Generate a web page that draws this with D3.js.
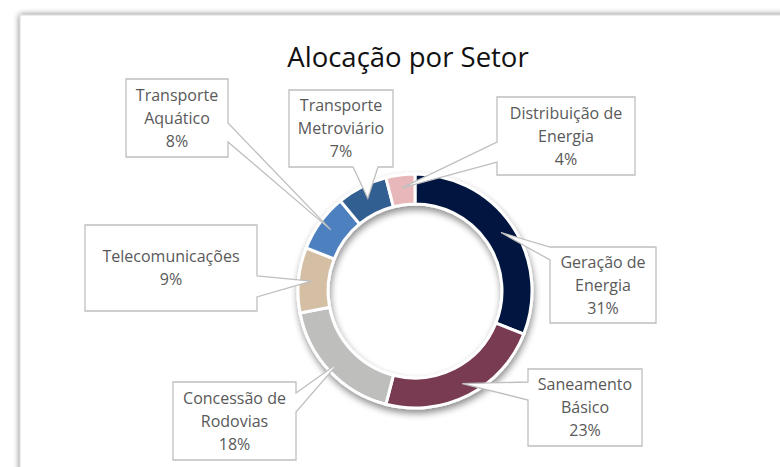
<!DOCTYPE html>
<html>
<head>
<meta charset="utf-8">
<script src="https://cdn.jsdelivr.net/npm/d3@7"></script>
<style>
  html, body { margin: 0; padding: 0; background: #ffffff; }
  svg { display: block; }
</style>
</head>
<body>
<svg id="chart" width="780" height="467"></svg>
<script>
// ---- Data ----
const categories = ["Geração de Energia", "Saneamento Básico", "Concessão de Rodovias",
                    "Telecomunicações", "Transporte Aquático", "Transporte Metroviário",
                    "Distribuição de Energia"];
const values = [31, 23, 18, 9, 8, 7, 4];
const colors = ["#03183F", "#793A51", "#BEBFBC", "#D5BFA4", "#4E80BE", "#335E91", "#E7B7B9"];
const title = "Alocação por Setor";

// ---- Label layout (line breaks and callout boxes) ----
const labelLines = [
  ["Geração de", "Energia"],
  ["Saneamento", "Básico"],
  ["Concessão de", "Rodovias"],
  ["Telecomunicações"],
  ["Transporte", "Aquático"],
  ["Transporte", "Metroviário"],
  ["Distribuição de", "Energia"]
];
const labelBoxes = [
  {x: 550, y: 247, w: 106, h: 76, side: "left",   a: 0,  b: 13},
  {x: 528, y: 369, w: 114, h: 77, side: "left",   a: 13, b: 31},
  {x: 173, y: 382, w: 123, h: 78, side: "right",  a: 11, b: 30},
  {x: 85,  y: 225, w: 172, h: 86, side: "right",  a: 51, b: 72},
  {x: 126, y: 79,  w: 102, h: 78, side: "right",  a: 44, b: 63},
  {x: 289, y: 90,  w: 104, h: 77, side: "bottom", a: 64, b: 89},
  {x: 497, y: 97,  w: 138, h: 78, side: "left",   a: 45, b: 65}
];

const svg = d3.select("#chart");
const defs = svg.append("defs");

const fShadow = defs.append("filter").attr("id", "frameShadow")
  .attr("x", "-5%").attr("y", "-5%").attr("width", "110%").attr("height", "110%");
fShadow.append("feGaussianBlur").attr("in", "SourceAlpha").attr("stdDeviation", 3).attr("result", "b");
fShadow.append("feComponentTransfer").attr("in", "b").attr("result", "b2")
  .append("feFuncA").attr("type", "linear").attr("slope", 0.55);
const fm = fShadow.append("feMerge");
fm.append("feMergeNode").attr("in", "b2");
fm.append("feMergeNode").attr("in", "SourceGraphic");

const dShadow = defs.append("filter").attr("id", "donutShadow")
  .attr("x", "-20%").attr("y", "-20%").attr("width", "140%").attr("height", "140%");
dShadow.append("feGaussianBlur").attr("in", "SourceAlpha").attr("stdDeviation", 3.5).attr("result", "b");
dShadow.append("feOffset").attr("in", "b").attr("dx", 1).attr("dy", 4).attr("result", "o");
dShadow.append("feComponentTransfer").attr("in", "o").attr("result", "o2")
  .append("feFuncA").attr("type", "linear").attr("slope", 0.45);
const dm = dShadow.append("feMerge");
dm.append("feMergeNode").attr("in", "o2");
dm.append("feMergeNode").attr("in", "SourceGraphic");

// Frame
svg.append("rect")
  .attr("x", 20).attr("y", 15).attr("width", 800).attr("height", 500)
  .attr("fill", "#ffffff").attr("stroke", "#d0d0d0").attr("stroke-width", 0.8)
  .attr("filter", "url(#frameShadow)");

// Title
svg.append("text")
  .attr("x", 408).attr("y", 67)
  .attr("text-anchor", "middle")
  .attr("font-family", "'Open Sans', 'Noto Sans', sans-serif")
  .attr("font-size", 27.5)
  .attr("fill", "#111111")
  .text(title);

// Donut
const cx = 415, cy = 291;
const outerR = 117, innerR = 87;
const pie = d3.pie().sort(null).value(d => d).startAngle(0).endAngle(2 * Math.PI);
const arcs = pie(values);
const arc = d3.arc().innerRadius(innerR).outerRadius(outerR);
const tipArc = d3.arc().innerRadius(104).outerRadius(104);

const g = svg.append("g").attr("transform", `translate(${cx},${cy})`)
  .attr("filter", "url(#donutShadow)");
g.selectAll("path.slice")
  .data(arcs)
  .join("path")
  .attr("class", "slice")
  .attr("d", arc)
  .attr("fill", (d, i) => colors[i])
  .attr("stroke", "#ffffff")
  .attr("stroke-width", 3)
  .attr("stroke-linejoin", "miter");

// Callouts
function calloutPath(b, tx, ty) {
  const {x, y, w, h, side, a} = b;
  const bb = b.b;
  const p = d3.path();
  p.moveTo(x, y);
  if (side === "top") { p.lineTo(x + a, y); p.lineTo(tx, ty); p.lineTo(x + bb, y); }
  p.lineTo(x + w, y);
  if (side === "right") { p.lineTo(x + w, y + a); p.lineTo(tx, ty); p.lineTo(x + w, y + bb); }
  p.lineTo(x + w, y + h);
  if (side === "bottom") { p.lineTo(x + bb, y + h); p.lineTo(tx, ty); p.lineTo(x + a, y + h); }
  p.lineTo(x, y + h);
  if (side === "left") { p.lineTo(x, y + bb); p.lineTo(tx, ty); p.lineTo(x, y + a); }
  p.closePath();
  return p.toString();
}

const labels = svg.append("g");
arcs.forEach((d, i) => {
  const c = tipArc.centroid(d);
  const tx = cx + c[0], ty = cy + c[1];
  const b = labelBoxes[i];
  labels.append("path")
    .attr("d", calloutPath(b, tx, ty))
    .attr("fill", "#ffffff")
    .attr("stroke", "#BFBFBF")
    .attr("stroke-width", 1.3)
    .attr("stroke-linejoin", "miter");
  const lines = labelLines[i].concat([d3.format(".0%")(values[i] / d3.sum(values))]);
  const lh = 23;
  const mid = b.y + b.h / 2;
  const t = labels.append("text")
    .attr("text-anchor", "middle")
    .attr("font-family", "'Open Sans', 'Noto Sans', sans-serif")
    .attr("font-size", 16)
    .attr("fill", "#595959");
  lines.forEach((ln, k) => {
    t.append("tspan")
      .attr("x", b.x + b.w / 2)
      .attr("y", mid + (k - (lines.length - 1) / 2) * lh)
      .attr("dy", "0.35em")
      .text(ln);
  });
});
</script>
</body>
</html>
